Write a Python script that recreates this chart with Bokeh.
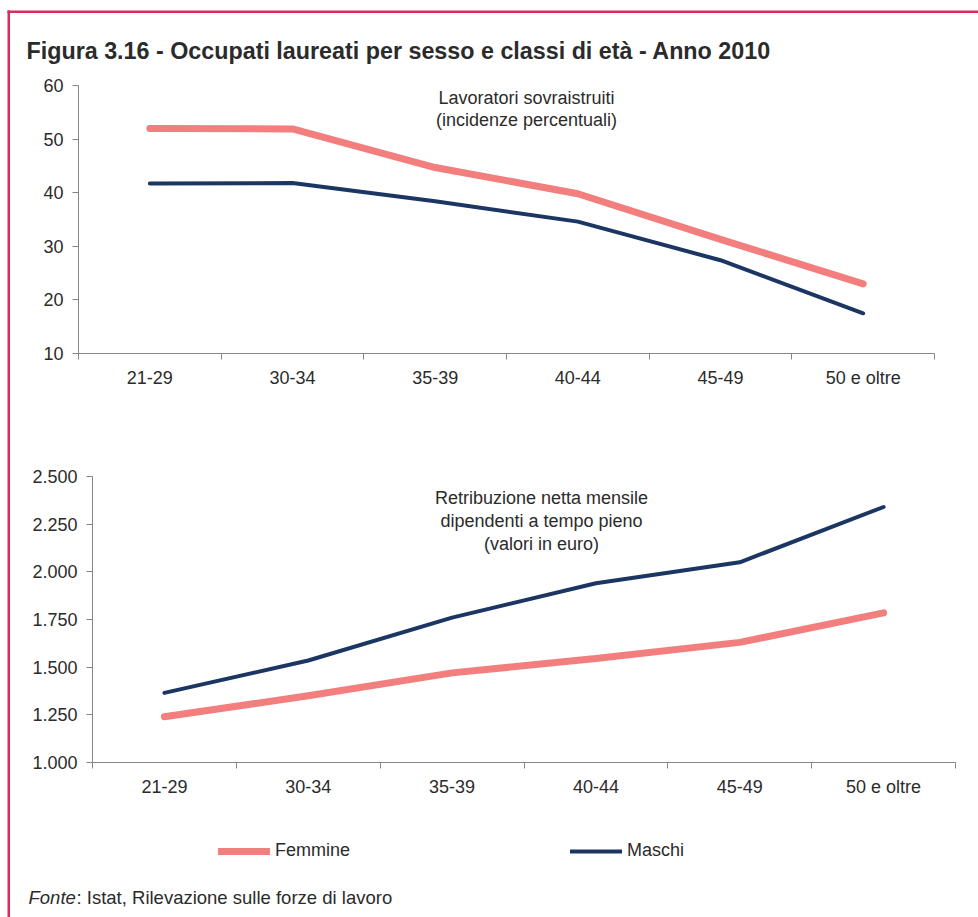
from bokeh.plotting import figure
from bokeh.models import (Range1d, FixedTicker, Label, BoxAnnotation, Legend, LegendItem,
                          LinearAxis)
from bokeh.embed import file_html
from bokeh.resources import INLINE

# ---------------- data ----------------
categories = ["21-29", "30-34", "35-39", "40-44", "45-49", "50 e oltre"]
sovra_femmine = [52.0, 51.9, 44.7, 39.8, 31.3, 23.0]
sovra_maschi = [41.7, 41.8, 38.4, 34.6, 27.4, 17.5]
retr_femmine = [1240, 1350, 1470, 1545, 1630, 1785]
retr_maschi = [1365, 1535, 1760, 1940, 2050, 2340]
top_yticks = [10, 20, 30, 40, 50, 60]
bottom_yticks = [1000, 1250, 1500, 1750, 2000, 2250, 2500]

title_text = "Figura 3.16 - Occupati laureati per sesso e classi di età - Anno 2010"
top_note = ["Lavoratori sovraistruiti", "(incidenze percentuali)"]
bottom_note = ["Retribuzione netta mensile", "dipendenti a tempo pieno", "(valori in euro)"]
series_names = ["Femmine", "Maschi"]
source_italic = "Fonte"
source_rest = ": Istat, Rilevazione sulle forze di lavoro"

# ---------------- style / layout (pixels) ----------------
W, H = 978, 917
PINK = "#F27F7E"
NAVY = "#1C3664"
AXIS = "#868686"
TEXT = "#2B2B2B"
FRAME = "#DC2A5F"
FONT = "Liberation Sans"

# pixel boxes of the two plot areas: (left, right, top, bottom)
TOP_BOX = (78, 934, 85, 353)
BOT_BOX = (92, 955, 476, 762)

ncat = len(categories)
centers = [i + 0.5 for i in range(ncat)]


def vrange(p_top, p_bot, v_top, v_bot, total):
    k = (v_top - v_bot) / (p_bot - p_top)  # value per pixel
    return Range1d(v_bot - (total - p_bot) * k, v_top + p_top * k)


def hrange(p_l, p_r, v_l, v_r, total):
    k = (v_r - v_l) / (p_r - p_l)
    return Range1d(v_l - p_l * k, v_r + (total - p_r) * k)


p = figure(width=W, height=H, output_backend="svg", toolbar_location=None,
           x_axis_location=None, y_axis_location=None, min_border=0,
           x_range=hrange(BOT_BOX[0], BOT_BOX[1], 0, ncat, W),
           y_range=vrange(BOT_BOX[2], BOT_BOX[3], bottom_yticks[-1], bottom_yticks[0], H))
p.extra_x_ranges = {"top": hrange(TOP_BOX[0], TOP_BOX[1], 0, ncat, W)}
p.extra_y_ranges = {"top": vrange(TOP_BOX[2], TOP_BOX[3], top_yticks[-1], top_yticks[0], H)}
p.xgrid.visible = False
p.ygrid.visible = False
p.outline_line_color = None
p.background_fill_color = "white"
p.border_fill_color = "white"


def style_axis(ax):
    ax.axis_line_color = AXIS
    ax.major_label_text_font = FONT
    ax.major_label_text_font_size = "18px"
    ax.major_label_text_color = TEXT


def add_axes(rname, yticks, yoverrides=None):
    kw = {} if rname is None else {"x_range_name": rname, "y_range_name": rname}
    xa = LinearAxis(fixed_location=yticks[0], bounds=(0, ncat),
                    ticker=FixedTicker(ticks=centers, minor_ticks=list(range(ncat + 1))),
                    major_label_overrides={c: lab for c, lab in zip(centers, categories)},
                    **kw)
    style_axis(xa)
    xa.major_tick_line_color = None
    xa.major_tick_out = 0
    xa.major_tick_in = 0
    xa.minor_tick_line_color = AXIS
    xa.minor_tick_out = 6
    xa.minor_tick_in = 0
    xa.major_label_standoff = 8
    p.add_layout(xa, "below")
    ya = LinearAxis(fixed_location=0, bounds=(yticks[0], yticks[-1]),
                    ticker=FixedTicker(ticks=yticks), **kw)
    if yoverrides:
        ya.major_label_overrides = yoverrides
    style_axis(ya)
    ya.minor_tick_line_color = None
    ya.major_tick_line_color = AXIS
    ya.major_tick_out = 6
    ya.major_tick_in = 0
    ya.major_label_standoff = 9
    p.add_layout(ya, "left")


def note(x, y, text, size="18px", style="normal", align="center", baseline="alphabetic"):
    # x, y are pixel positions from the top-left corner of the canvas
    p.add_layout(Label(x=x, y=H - y, x_units="screen", y_units="screen", text=text,
                       text_font=FONT, text_font_size=size, text_font_style=style,
                       text_color=TEXT, text_align=align, text_baseline=baseline))


def bar(left, right, top, bottom):
    p.add_layout(BoxAnnotation(left=left, right=right, top=H - top, bottom=H - bottom,
                               left_units="screen", right_units="screen",
                               top_units="screen", bottom_units="screen",
                               fill_color=FRAME, fill_alpha=1, line_color=None,
                               level="overlay"))


# ---------------- top chart ----------------
add_axes("top", top_yticks)
p.line(centers, sovra_femmine, x_range_name="top", y_range_name="top",
       line_width=7, color=PINK, line_cap="round", line_join="round")
p.line(centers, sovra_maschi, x_range_name="top", y_range_name="top",
       line_width=4, color=NAVY, line_cap="round", line_join="round")

# ---------------- bottom chart ----------------
ov = {v: f"{v:,}".replace(",", ".") for v in bottom_yticks}
add_axes(None, bottom_yticks, ov)
rf = p.line(centers, retr_femmine, line_width=7, color=PINK, line_cap="round", line_join="round")
rm = p.line(centers, retr_maschi, line_width=4, color=NAVY, line_cap="round", line_join="round")

# ---------------- texts ----------------
note(26, 50, title_text, size="23.3px", style="bold", align="left")
note(526, 97, top_note[0])
note(526, 119, top_note[1])
note(541, 497, bottom_note[0])
note(541, 520, bottom_note[1])
note(541, 543, bottom_note[2])
note(28, 897, source_italic, size="18.5px", style="italic", align="left")
note(76, 897, source_rest, size="18.5px", align="left")

legend = Legend(items=[LegendItem(label=series_names[0], renderers=[rf]),
                       LegendItem(label=series_names[1], renderers=[rm])],
                orientation="horizontal", location=(218, H - 861), padding=0, margin=0,
                spacing=220, glyph_width=52, glyph_height=20, label_standoff=5,
                label_text_font=FONT, label_text_font_size="18px", label_text_color=TEXT,
                border_line_color=None, background_fill_alpha=0)
p.add_layout(legend)

# ---------------- frame border ----------------
bar(7, 9.5, 10, H)
bar(7, W, 10, 12.5)

open("out.html", "w").write(file_html(p, INLINE))
